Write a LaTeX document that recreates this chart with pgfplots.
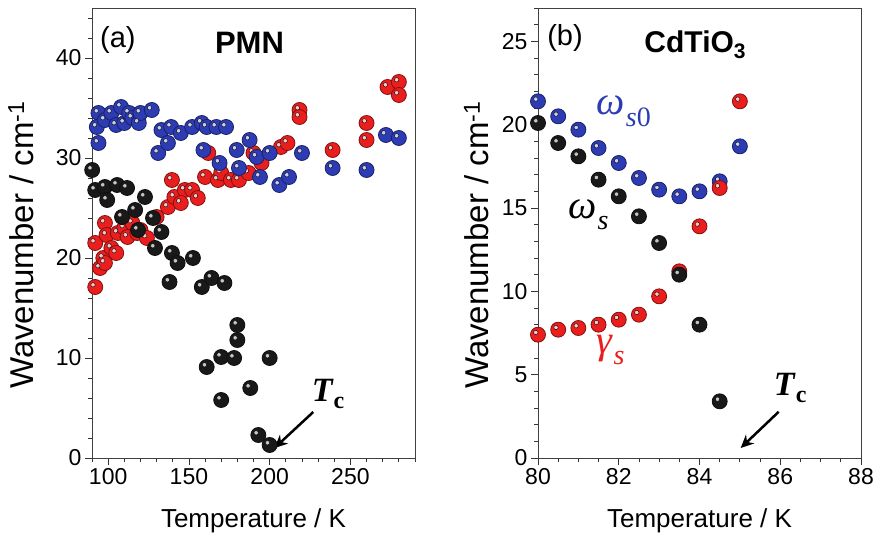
\documentclass[border=0pt]{standalone}
\usepackage{pgfplots}
\usepackage{pgfplotstable}
\pgfplotsset{compat=1.18}
\usepackage{fontspec}
\setmainfont{Liberation Sans}
\newfontfamily\tcfont{Liberation Serif}
\usetikzlibrary{arrows.meta}
\definecolor{pblue}{RGB}{45,60,180}
\definecolor{pred}{RGB}{235,30,30}
\definecolor{pblack}{RGB}{25,25,25}
\pgfplotstableread{
T v
92 21.5
92 17.1
95 19.0
97 20.0
98 23.5
99 22.3
102 21.0
98 19.5
105 20.5
106 22.5
110 23.0
112 22.1
115 23.5
118 22.5
120 22.8
124 22.0
130 24.1
137 25.1
141 26.1
139.5 27.8
147.5 26.8
145 25.5
152 26.8
155.5 26.0
160 28.1
168 27.8
170 28.5
176 27.8
181 27.8
162 30.5
187 28.5
190 30.5
195 29.5
207 31.1
211 31.5
218.5 34.8
218.5 34.1
239 30.8
260 33.5
260 31.8
273 37.1
280 37.6
280 36.3
}\redA
\pgfplotstableread{
T v
94 34.5
93 33.1
94 31.5
98 33.8
102 34.5
105 33.3
108 35.1
110 33.5
113 34.5
115 34.0
119 33.5
120 34.5
127 34.8
131 30.5
133 32.8
137 31.5
139 33.1
145 32.5
152 33.1
158 33.5
159 30.8
161 33.1
167 33.1
173 33.1
169 29.5
179.6 30.8
181 29.0
187.6 31.8
192 30.1
194 28.1
200 30.5
206 27.3
212 28.1
220 30.5
239 29.0
260 28.8
272 32.3
280 32.0
}\blueA
\pgfplotstableread{
T v
90.1 28.8
92 26.8
98 27.1
99.4 25.8
105.6 27.3
111.7 27.0
122.8 26.1
108.6 24.1
116.7 24.8
127.8 24.0
118.5 22.8
133 22.6
129 21.0
139.5 20.5
143 19.5
152.5 20.0
138 17.6
158 17.1
164 18.0
172 17.5
180 13.3
180 11.8
170 10.1
178 10.0
161 9.1
200 10.0
188 7.0
170 5.8
193 2.3
200 1.3
}\blackA
\pgfplotstableread{
T v
80 21.4
80.5 20.5
81 19.7
81.5 18.6
82 17.7
82.5 16.8
83 16.1
83.5 15.7
84 16.0
84.5 16.6
85 18.7
}\blueB
\pgfplotstableread{
T v
80 7.4
80.5 7.7
81 7.8
81.5 8.0
82 8.3
82.5 8.6
83 9.7
83.5 11.2
84 13.9
84.5 16.2
85 21.4
}\redB
\pgfplotstableread{
T v
80 20.1
80.5 18.9
81 18.1
81.5 16.7
82 15.7
82.5 14.5
83 12.9
83.5 11.0
84 8.0
84.5 3.4
}\blackB
\pgfplotsset{
  common/.style={
    scale only axis, width=323pt, height=450pt, anchor=south west,
    axis line style={black!75, line width=0.8pt},
    tick align=outside, xtick pos=bottom, ytick pos=left,
    major tick length=7pt, minor tick length=4pt,
    tick style={black!80, line width=0.8pt},
    ticklabel style={font=\fontsize{23}{25}\selectfont},
    xlabel style={font=\fontsize{26}{28}\selectfont},
    ylabel style={font=\fontsize{33}{35}\selectfont},
    /pgf/number format/assume math mode=true,
    xlabel={Temperature / K},
    ylabel={Wavenumber / cm\textsuperscript{-1}},
    xlabel style={at={(axis description cs:0.5,-0.14)}, anchor=center},
  },
  balls/.style={only marks, mark=*, mark size=7.5pt, mark options={fill=#1, draw=#1!55!black, line width=0.8pt}},
  shine/.style={only marks, mark=*, mark size=2.2pt, mark options={fill=white, fill opacity=0.75, draw=none, xshift=-2.2pt, yshift=2.2pt}},
}
\newcommand{\Tc}{{\tcfont\bfseries\itshape T\kern1pt\raisebox{-0.22em}{\upshape\fontsize{24}{24}\selectfont c}}}
\newcommand{\subx}[1]{\kern1pt\raisebox{-0.28em}{\fontsize{28}{28}\selectfont #1}}
\newcommand{\omg}{{\tcfont\itshape ω}}
\newcommand{\gam}{{\tcfont\itshape γ}}
\newcommand{\sit}{{\tcfont\itshape s}}
\begin{document}
\begin{tikzpicture}
\useasboundingbox (0,0) rectangle (880pt,541pt);
% ---------- (a) PMN ----------
\begin{axis}[common, at={(92pt,83pt)},
  ylabel style={at={(axis description cs:-0.22,0.473)}, anchor=center},
  xmin=90, xmax=290, ymin=0, ymax=45,
  xtick={100,150,200,250}, minor xtick={90,110,120,130,140,160,170,180,190,210,220,230,240,260,270,280,290},
  ytick={0,10,20,30,40}, minor ytick={2,4,6,8,12,14,16,18,22,24,26,28,32,34,36,38,42,44}]
\addplot[balls=pred] table[x=T,y=v] {\redA};
\addplot[shine] table[x=T,y=v] {\redA};
\addplot[balls=pblue] table[x=T,y=v] {\blueA};
\addplot[shine] table[x=T,y=v] {\blueA};
\addplot[balls=pblack] table[x=T,y=v] {\blackA};
\addplot[shine] table[x=T,y=v] {\blackA};
\node[font=\fontsize{29}{31}\selectfont] at (axis cs:106,41.8) {(a)};
\node[font=\fontsize{31}{33}\selectfont\bfseries] at (axis cs:187.5,41.5) {PMN};
\node[anchor=west, font=\fontsize{34}{36}\selectfont, inner sep=0pt] at (axis cs:226,6.4) {\Tc};
\draw[line width=2.5pt, -{Stealth[length=13pt,width=12pt]}] (axis cs:227,4.6) -- (axis cs:203,1.0);
\end{axis}
% ---------- (b) CdTiO3 ----------
\begin{axis}[common, at={(538pt,83pt)},
  ylabel style={at={(axis description cs:-0.19,0.473)}, anchor=center},
  xmin=80, xmax=88, ymin=0, ymax=27,
  xtick={80,82,84,86,88}, minor xtick={80.5,81,81.5,82.5,83,83.5,84.5,85,85.5,86.5,87,87.5},
  ytick={0,5,10,15,20,25}, minor ytick={1,2,3,4,6,7,8,9,11,12,13,14,16,17,18,19,21,22,23,24,26,27}]
\addplot[balls=pblue] table[x=T,y=v] {\blueB};
\addplot[shine] table[x=T,y=v] {\blueB};
\addplot[balls=pred] table[x=T,y=v] {\redB};
\addplot[shine] table[x=T,y=v] {\redB};
\addplot[balls=pblack] table[x=T,y=v] {\blackB};
\addplot[shine] table[x=T,y=v] {\blackB};
\node[font=\fontsize{29}{31}\selectfont] at (axis cs:80.67,25.2) {(b)};
\node[anchor=west, font=\fontsize{30}{32}\selectfont\bfseries] at (axis cs:82.55,24.8) {CdTiO\textsubscript{3}};
\node[anchor=west, text=pblue, font=\fontsize{40}{42}\selectfont, inner sep=0pt] at (axis cs:81.45,20.8) {\omg\subx{\sit{\tcfont 0}}};
\node[anchor=west, text=black, font=\fontsize{40}{42}\selectfont, inner sep=0pt] at (axis cs:80.75,14.6) {\omg\subx{\sit}};
\node[anchor=west, text=pred, font=\fontsize{40}{42}\selectfont, inner sep=0pt] at (axis cs:81.45,6.5) {\gam\subx{\sit}};
\node[anchor=west, font=\fontsize{34}{36}\selectfont, inner sep=0pt] at (axis cs:85.84,4.2) {\Tc};
\draw[line width=2.5pt, -{Stealth[length=13pt,width=12pt]}] (axis cs:85.96,2.77) -- (axis cs:85.02,0.6);
\end{axis}
\end{tikzpicture}
\end{document}
